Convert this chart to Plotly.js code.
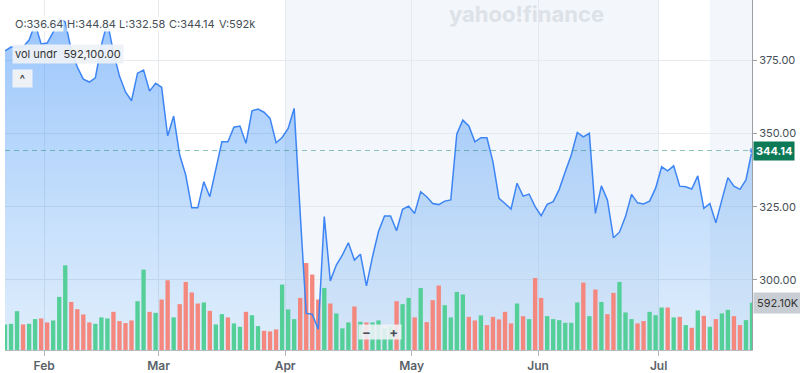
<!DOCTYPE html>
<html>
<head>
<meta charset="utf-8">
<script src="https://cdn.plot.ly/plotly-3.0.1.min.js"></script>
<style>html,body{margin:0;padding:0;background:#fff;}#chart{width:800px;height:373px;}</style>
</head>
<body>
<div id="chart"></div>
<script>
// Daily closing prices (trading-day order)
const prices = [378.1,379.4,379.4,379.4,381.8,387.3,380.5,380.8,384.5,389.3,
388.0,378.4,372.6,368.5,367.5,368.9,380.1,388.0,377.7,369.5,
364.1,361.1,370.5,371.6,364.4,367.1,365.7,349.1,355.9,342.6,
335.8,324.6,324.6,333.5,328.4,337.5,347.1,347.1,352.1,352.5,
346.6,357.7,358.3,357.2,355.1,346.8,348.6,351.7,358.5,322.8,
288.6,288.3,283.2,321.6,299.7,305.1,308.5,312.7,306.8,308.8,
298.0,307.9,316.5,321.8,321.8,316.8,324.1,325.2,322.7,330.1,
328.4,326.1,325.7,326.9,327.3,349.8,354.5,352.5,347.1,348.5,
348.5,340.3,327.8,326.1,324.2,333.0,328.6,329.3,325.0,321.9,
325.8,326.7,330.9,336.9,342.6,350.3,348.8,350.0,322.7,332.1,
327.3,314.4,316.3,321.6,329.2,326.3,325.9,326.9,331.3,338.6,
337.2,338.9,332.0,331.8,331.0,335.5,324.4,326.1,319.5,327.3,
334.9,332.0,330.9,334.1,344.14];

// Daily volume in thousands
const volumes = [320,328,486,320,328,387,395,345,370,665,
1060,602,511,445,345,328,408,395,478,362,
337,370,611,1006,478,465,632,873,408,574,
852,720,582,595,490,320,449,408,333,291,
478,436,299,241,233,258,819,508,387,652,
1089,944,632,777,582,458,271,345,545,353,
345,345,370,274,299,611,574,652,408,777,
349,624,807,561,408,727,695,415,370,433,
312,415,383,478,333,582,424,387,902,652,
424,387,374,340,340,595,844,424,757,602,
449,715,852,470,387,333,362,478,436,532,
532,408,415,312,278,495,428,291,387,458,
503,424,312,374,592.1];

// Up (G) / down (R) day of each volume bar
const dayDirection = ("GGGRGGRRGG" + "GRRRRGGGRR" + "RRGGRGRRGR" + "RRRGRGGRGG" +
  "RGGRRRGGGR" + "RRRGRGGGRG" + "RGGGGRGGRG" + "RRRGGGGRRG" + "RRRRRGRGRR" +
  "GGGGGGRGRG" + "RRGGGRRGGG" + "RGRGRGRGRG" + "GRRGG").split("");

// Month tick labels and first trading-day index of each month
const monthLabels = ["Feb", "Mar", "Apr", "May", "Jun", "Jul"];
const monthStartIdx = [7, 26, 47, 68, 89, 109];

const priceTicks = [300, 325, 350, 375];
const lastClose = 344.14;
const ohlcLabels = ["O:336.64", "H:344.84", "L:332.58", "C:344.14", "V:592k"];
const volLabel = "vol undr  592,100.00";
const volBadge = "592.10K";

const xIdx = prices.map((_, i) => i);
const lastI = prices.length - 1;
const PR = [276.13, 395.46];
const VR = [0, 4381];
const FONT = "Inter, 'Liberation Sans', sans-serif";

const traces = [
  { // gradient area under the price
    x: xIdx, y: prices, type: "scatter", mode: "lines",
    line: { width: 0 }, fill: "tozeroy",
    fillgradient: { type: "vertical", start: 276, stop: 395,
      colorscale: [[0, "rgba(80,160,240,0.18)"], [1, "rgba(56,140,250,0.52)"]] },
    hoverinfo: "skip", xaxis: "x", yaxis: "y", showlegend: false
  },
  { // volume bars
    x: xIdx, y: volumes, type: "bar",
    marker: { color: dayDirection.map(d => d === "G" ? "#55cf98" : "#f5887e"), line: { width: 0 } },
    xaxis: "x", yaxis: "y2", showlegend: false, hoverinfo: "skip"
  },
  { // price line
    x: xIdx, y: prices, type: "scatter", mode: "lines+markers",
    line: { color: "#3d85f5", width: 1.5 },
    marker: { color: "#3d85f5", size: xIdx.map(i => i === lastI ? 6 : 0) },
    xaxis: "x", yaxis: "y3", showlegend: false, hoverinfo: "skip"
  }
];

const ann = [];
const ohlcX = [15, 67, 119, 169, 219];
ohlcLabels.forEach((t, k) => ann.push({
  text: t, xref: "paper", yref: "paper", x: 0, y: 1, xanchor: "left", yanchor: "middle",
  xshift: ohlcX[k] - 5 - 1, yshift: -24, showarrow: false,
  font: { family: FONT, size: 11, color: "#464e56" }, bgcolor: "rgba(255,255,255,0.9)", borderpad: 0
}));
ann.push({
  text: volLabel, xref: "paper", yref: "paper", x: 0, y: 1, xanchor: "left", yanchor: "middle",
  xshift: 11.7 - 5, yshift: -54, showarrow: false,
  font: { family: FONT, size: 11, color: "#333" }, bgcolor: "rgba(238,242,247,0.92)", borderpad: 2
});
ann.push({
  text: "^", xref: "paper", yref: "paper", x: 0, y: 1, xanchor: "left", yanchor: "middle",
  xshift: 11.7 - 5, yshift: -78.7, showarrow: false, width: 17, height: 15, borderpad: 1,
  font: { family: FONT, size: 12, color: "#333" }, bgcolor: "#eef2f6"
});
ann.push({
  text: "<b>yahoo!finance</b>", xref: "paper", yref: "paper", x: 0, y: 1, xanchor: "center", yanchor: "middle",
  xshift: 526 - 5, yshift: -13.5, showarrow: false,
  font: { family: FONT, size: 22, color: "#dde2e8" }
});
ann.push({
  text: "<b>" + lastClose.toFixed(2) + "</b>", xref: "paper", yref: "y", x: 1, y: lastClose,
  xanchor: "left", yanchor: "middle", xshift: 1, showarrow: false,
  font: { family: FONT, size: 11, color: "#ffffff" }, bgcolor: "#0d7a57", borderpad: 2
});
ann.push({
  text: volBadge, xref: "paper", yref: "y2", x: 1, y: volumes[lastI],
  xanchor: "left", yanchor: "middle", xshift: 1, showarrow: false,
  font: { family: FONT, size: 11, color: "#333" }, bgcolor: "#c9ced4", borderpad: 3
});
ann.push({
  text: "<b>−</b>     <b>+</b>", xref: "paper", yref: "paper", x: 0, y: 1, xanchor: "left", yanchor: "middle",
  xshift: 358 - 5, yshift: -331.5, showarrow: false, width: 42, height: 14, borderpad: 0,
  font: { family: FONT, size: 13, color: "#464e56" }, bgcolor: "rgba(240,244,248,0.88)"
});

const layout = {
  width: 800, height: 373,
  margin: { l: 5, r: 48, t: 0, b: 23, pad: 0 },
  paper_bgcolor: "#ffffff", plot_bgcolor: "#ffffff",
  bargap: 0.28, showlegend: false,
  font: { family: FONT },
  xaxis: {
    range: [0, lastI], type: "linear",
    tickvals: monthStartIdx.map(v => v - 0.5), ticktext: monthLabels,
    showgrid: true, gridcolor: "#e6eaee", gridwidth: 1,
    ticks: "outside", ticklen: 5, tickcolor: "#b0b5ba",
    showline: true, linecolor: "#b8bcc0", zeroline: false,
    tickfont: { family: FONT, size: 12, color: "#5b636a", weight: 600 }
  },
  yaxis: {
    side: "right", range: PR, tickvals: priceTicks, tickformat: ".2f",
    showgrid: true, gridcolor: "#e6e9ed", gridwidth: 1,
    showline: true, linecolor: "#9aa0a6", ticks: "outside", ticklen: 4, tickcolor: "#9aa0a6",
    zeroline: false, tickfont: { family: FONT, size: 11, color: "#464e56" }
  },
  yaxis2: { overlaying: "y", range: VR, visible: false, fixedrange: true },
  yaxis3: { overlaying: "y", range: PR, visible: false, fixedrange: true },
  shapes: [
    { type: "rect", xref: "x", yref: "paper", x0: 46.5, x1: 108.45, y0: 0, y1: 1,
      fillcolor: "#f3f6fa", line: { width: 0 }, layer: "below" },
    { type: "rect", xref: "x", yref: "paper", x0: 117, x1: lastI, y0: 0, y1: 1,
      fillcolor: "#f3f6fa", line: { width: 0 }, layer: "below" },
    { type: "line", xref: "paper", yref: "y", x0: 0, x1: 1, y0: lastClose, y1: lastClose,
      line: { color: "rgba(30,140,115,0.5)", width: 1.2, dash: "5px,4px" }, layer: "above" }
  ],
  annotations: ann
};

Plotly.newPlot("chart", traces, layout, { displayModeBar: false, staticPlot: true });
</script>
</body>
</html>
